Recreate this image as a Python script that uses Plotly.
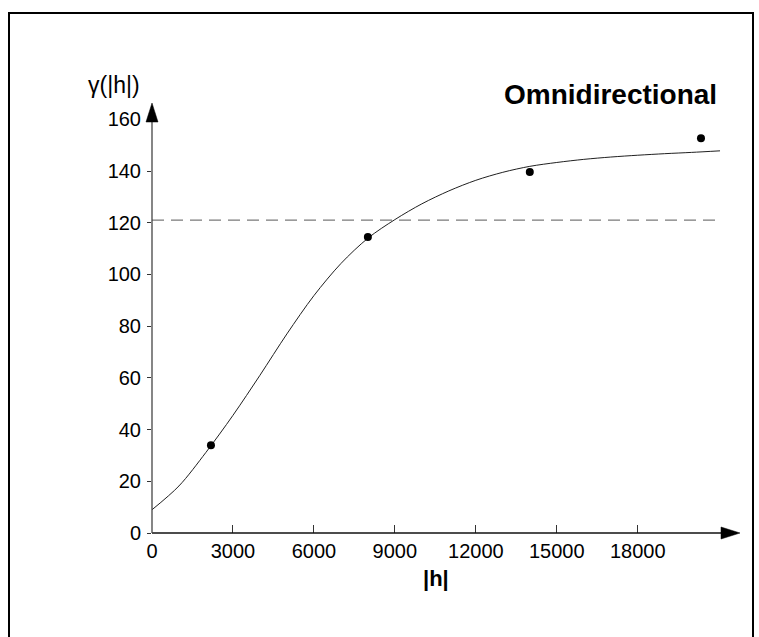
import plotly.graph_objects as go

# ---- data ----
lag_points = [2185, 8000, 14000, 20344]          # |h| of experimental points
gamma_points = [33.9, 114.5, 139.6, 152.7]       # γ(|h|) of experimental points

model_h = [0, 1000, 2000, 3000, 4000, 5000, 6000, 7000, 8000, 9000, 10000,
           11000, 12000, 13000, 14000, 15000, 16000, 17000, 18000, 19000,
           20000, 21050]
model_gamma = [9, 18.2, 31.2, 45.5, 61, 77, 91.8, 104.2, 114, 121.2, 127.3,
               132.3, 136.4, 139.5, 141.8, 143.3, 144.5, 145.4, 146.1, 146.7,
               147.2, 147.8]

sill = 121.0
sill_h = [0, 21050]

x_ticks = [0, 3000, 6000, 9000, 12000, 15000, 18000]
y_ticks = [0, 20, 40, 60, 80, 100, 120, 140, 160]

title_text = "Omnidirectional"
x_title = "|h|"
y_title = "γ(|h|)"

X_MAX = 21790
Y_MAX = 166.3

FONT = "Liberation Sans, Arial, sans-serif"

# plot area (pixels)
L, R, T, B = 152, 740, 103, 533
W, H = R - L, B - T


def px(xp):
    return (xp - L) / W


def py(yp):
    return (B - yp) / H


fig = go.Figure()

fig.add_trace(go.Scatter(x=sill_h, y=[sill, sill], mode="lines",
                         line=dict(color="#7a7a7a", width=1.2, dash="12px,7px"),
                         hoverinfo="skip", showlegend=False))
fig.add_trace(go.Scatter(x=model_h, y=model_gamma, mode="lines",
                         line=dict(color="#202020", width=1, shape="spline", smoothing=0.9),
                         showlegend=False))
fig.add_trace(go.Scatter(x=lag_points, y=gamma_points, mode="markers",
                         marker=dict(color="black", size=8),
                         showlegend=False))

shapes = [
    # outer frame
    dict(type="rect", xref="paper", yref="paper",
         x0=px(9), x1=px(753), y0=py(650), y1=py(13),
         line=dict(color="black", width=2), layer="below"),
    # x axis line
    dict(type="line", xref="paper", yref="paper", x0=0, x1=px(722), y0=0, y1=0,
         line=dict(color="#111111", width=1.3)),
    # y axis line
    dict(type="line", xref="paper", yref="paper", x0=0, x1=0, y0=0, y1=py(121),
         line=dict(color="#444444", width=1.3)),
    # x arrow head
    dict(type="path", xref="paper", yref="paper", xsizemode="pixel", ysizemode="pixel",
         xanchor=1, yanchor=0, path="M0,0 L-19,6 L-19,-6 Z",
         fillcolor="black", line=dict(color="black", width=0.5)),
    # y arrow head
    dict(type="path", xref="paper", yref="paper", xsizemode="pixel", ysizemode="pixel",
         xanchor=0, yanchor=1, path="M0,0 L-6,-19 L6,-19 Z",
         fillcolor="black", line=dict(color="black", width=0.5)),
]

annotations = [
    dict(text="<b>%s</b>" % title_text, xref="paper", yref="paper",
         x=px(719), y=py(94), xanchor="right", yanchor="middle", showarrow=False,
         font=dict(family=FONT, size=28, color="black")),
    dict(text=y_title, xref="paper", yref="paper",
         x=px(142), y=py(85), xanchor="right", yanchor="middle", showarrow=False,
         font=dict(family=FONT, size=23, color="black")),
    dict(text="<b>%s</b>" % x_title, xref="paper", yref="paper",
         x=px(436), y=py(578), xanchor="center", yanchor="middle", showarrow=False,
         font=dict(family=FONT, size=22, color="black")),
]

fig.update_layout(
    width=759, height=637,
    margin=dict(l=L, r=759 - R, t=T, b=637 - B, autoexpand=False),
    paper_bgcolor="white", plot_bgcolor="white",
    shapes=shapes, annotations=annotations,
    font=dict(family=FONT, color="black"),
    xaxis=dict(range=[0, X_MAX], showgrid=False, zeroline=False, showline=False,
               tickvals=x_ticks, ticktext=[str(v) for v in x_ticks],
               ticks="inside", ticklen=8, tickwidth=1, tickcolor="#333333",
               tickfont=dict(family=FONT, size=20, color="black"),
               ticklabelstandoff=4, fixedrange=True),
    yaxis=dict(range=[0, Y_MAX], showgrid=False, zeroline=False, showline=False,
               tickvals=y_ticks, ticktext=[str(v) for v in y_ticks],
               ticks="outside", ticklen=4, tickwidth=1, tickcolor="#333333",
               tickfont=dict(family=FONT, size=20, color="black"),
               ticklabelstandoff=2, fixedrange=True),
)

fig.write_html("out.html")
